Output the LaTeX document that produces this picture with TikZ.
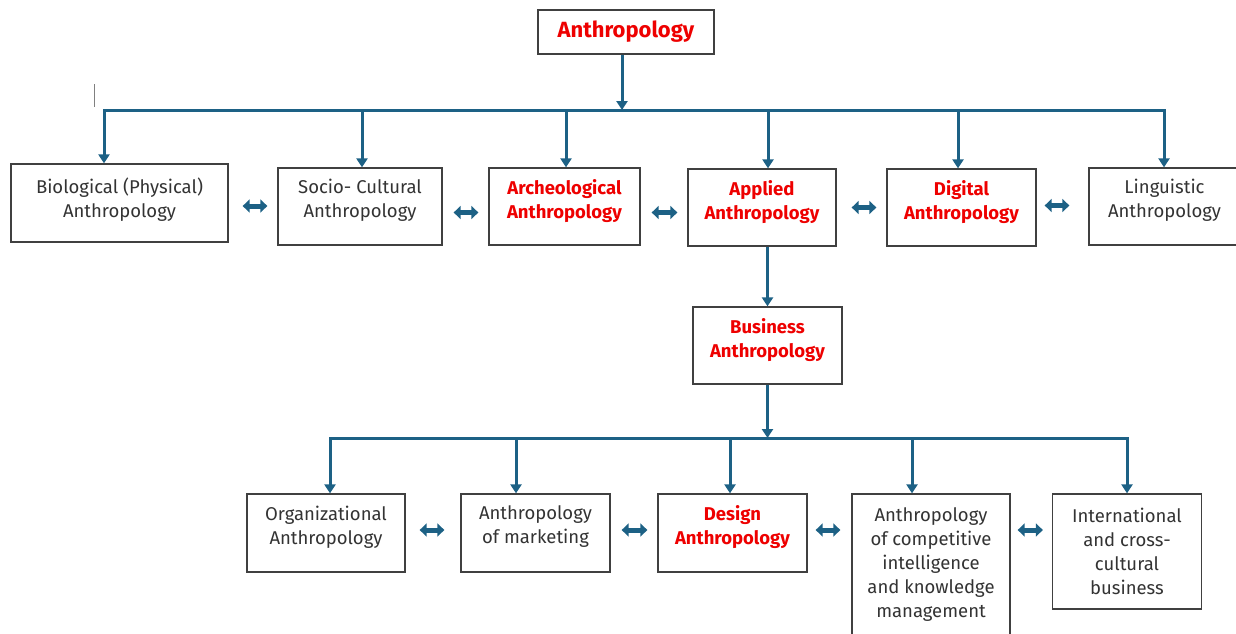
\documentclass[tikz,border=0pt]{standalone}
\usepackage{fontspec}
\setmainfont{Fira Sans}
\usetikzlibrary{arrows.meta}

\definecolor{linha}{HTML}{1D6185}
\definecolor{borda}{HTML}{404040}
\definecolor{texto}{HTML}{333333}
\definecolor{vermelho}{HTML}{EE0000}

\tikzset{
    caixa/.style={draw=borda, line width=1.3pt, fill=white, align=center, inner sep=0pt,
        text=texto, text depth=16pt, font=\fontsize{18.5}{24}\selectfont},
    destaque/.style={text=vermelho, font=\fontsize{18.5}{24}\selectfont\bfseries},
    fio/.style={draw=linha, line width=3pt},
    duplo/.style={draw=linha, line width=5pt,
        {Triangle[length=7pt,width=13pt]}-{Triangle[length=7pt,width=13pt]}},
}

\begin{document}
\begin{tikzpicture}[x=1pt, y=-1pt, >={Triangle[length=9pt,width=11pt]}]

            \useasboundingbox (0,0) rectangle (1236,633);

            % Coordenadas dos barramentos
            \coordinate (t)  at (622,110);
            \coordinate (d1) at (104,110);
            \coordinate (d2) at (362,110);
            \coordinate (d3) at (566,110);
            \coordinate (d4) at (768,110);
            \coordinate (d5) at (958,110);
            \coordinate (d6) at (1164,110);

            \coordinate (e1) at (330,438);
            \coordinate (e2) at (516,438);
            \coordinate (e3) at (730,438);
            \coordinate (e4) at (912,438);
            \coordinate (e5) at (1127,438);

            % --- Caixas ---

            % Topo
            \node[caixa, destaque, font=\fontsize{22}{26}\selectfont\bfseries, text depth=6pt,
                minimum width=176pt, minimum height=44pt] (antro) at (626,32) {Anthropology};

            % Primeira linha
            \node[caixa, text depth=11pt, minimum width=217pt, minimum height=78pt] (bio) at (119.5,203)
                {Biological (Physical)\\Anthropology};
            \node[caixa, minimum width=164pt, minimum height=77pt] (socio) at (360,206.5)
                {Socio- Cultural\\Anthropology};
            \node[caixa, destaque, minimum width=151pt, minimum height=77pt] (arq) at (564.5,206.5)
                {Archeological\\Anthropology};
            \node[caixa, destaque, minimum width=148pt, minimum height=77pt] (apl) at (762,207.5)
                {Applied\\Anthropology};
            \node[caixa, destaque, minimum width=149pt, minimum height=77pt] (dig) at (961.5,207.5)
                {Digital\\Anthropology};
            \node[caixa, minimum width=151pt, minimum height=77pt] (ling) at (1164.5,206.5)
                {Linguistic\\Anthropology};

            % Meio
            \node[caixa, destaque, minimum width=149pt, minimum height=77pt] (neg) at (767.5,345.5)
                {Business\\Anthropology};

            % Segunda linha
            \node[caixa, minimum width=158pt, minimum height=78pt] (org) at (326,533)
                {Organizational\\Anthropology};
            \node[caixa, minimum width=149pt, minimum height=78pt] (mkt) at (535.5,533)
                {Anthropology\\of marketing};
            \node[caixa, destaque, minimum width=149pt, minimum height=78pt] (des) at (732.5,533)
                {Design\\Anthropology};
            \node[caixa, text depth=5pt, minimum width=158pt, minimum height=142pt] (comp) at (931,565)
                {Anthropology\\of competitive\\intelligence\\and knowledge\\management};
            \node[caixa, text depth=0pt, minimum width=149pt, minimum height=115pt] (intl) at (1127,551.5)
                {International\\and cross-\\cultural\\business};

            % --- Fios ---

            % Topo para o barramento
            \draw[fio, ->] (antro.south -| t) -- (t);

            % Barramento superior com as pontas
            \draw[fio, <->] (d1 |- bio.north) -- (d1) -- (d6) -- (d6 |- ling.north);
            \draw[fio, ->] (d2) -- (d2 |- socio.north);
            \draw[fio, ->] (d3) -- (d3 |- arq.north);
            \draw[fio, ->] (d4) -- (d4 |- apl.north);
            \draw[fio, ->] (d5) -- (d5 |- dig.north);

            % Applied -> Business -> barramento inferior
            \draw[fio, ->] (neg.north |- apl.south) -- (neg.north);
            \draw[fio, ->] (neg.south) -- (neg.south |- e1);

            % Barramento inferior
            \draw[fio, <->] (e1 |- org.north) -- (e1) -- (e5) -- (e5 |- intl.north);
            \draw[fio, ->] (e2) -- (e2 |- mkt.north);
            \draw[fio, ->] (e3) -- (e3 |- des.north);
            \draw[fio, ->] (e4) -- (e4 |- comp.north);

            % Setas duplas (primeira linha)
            \draw[duplo, shorten <=14pt, shorten >=10pt] ([yshift=-3pt]bio.east) -- ([yshift=-3pt]bio.east -| socio.west);
            \draw[duplo, shorten <=11pt, shorten >=10pt] ([yshift=-6pt]socio.east) -- ([yshift=-6pt]arq.west);
            \draw[duplo, shorten <=11pt, shorten >=10pt] ([yshift=-6pt]arq.east) -- ([yshift=-6pt]arq.east -| apl.west);
            \draw[duplo, shorten <=15pt, shorten >=10pt] (apl.east) -- (dig.west);
            \draw[duplo, shorten <=8pt, shorten >=19pt] ([yshift=2pt]dig.east) -- ([yshift=2pt]dig.east -| ling.west);

            % Setas duplas (segunda linha)
            \draw[duplo, shorten <=14pt, shorten >=16pt] ([yshift=3pt]org.east) -- ([yshift=3pt]mkt.west);
            \draw[duplo, shorten <=11pt, shorten >=10pt] ([yshift=3pt]mkt.east) -- ([yshift=3pt]des.west);
            \draw[duplo, shorten <=8pt, shorten >=11pt] ([yshift=3pt]des.east) -- ([yshift=3pt]des.east -| comp.west);
            \draw[duplo, shorten <=7pt, shorten >=9pt] ([yshift=3pt]des.east -| comp.east) -- ([yshift=3pt]des.east -| intl.west);

            % Traço solto
            \draw[gray, line width=0.8pt] (94,84) -- (94,107);

        \end{tikzpicture}
\end{document}
